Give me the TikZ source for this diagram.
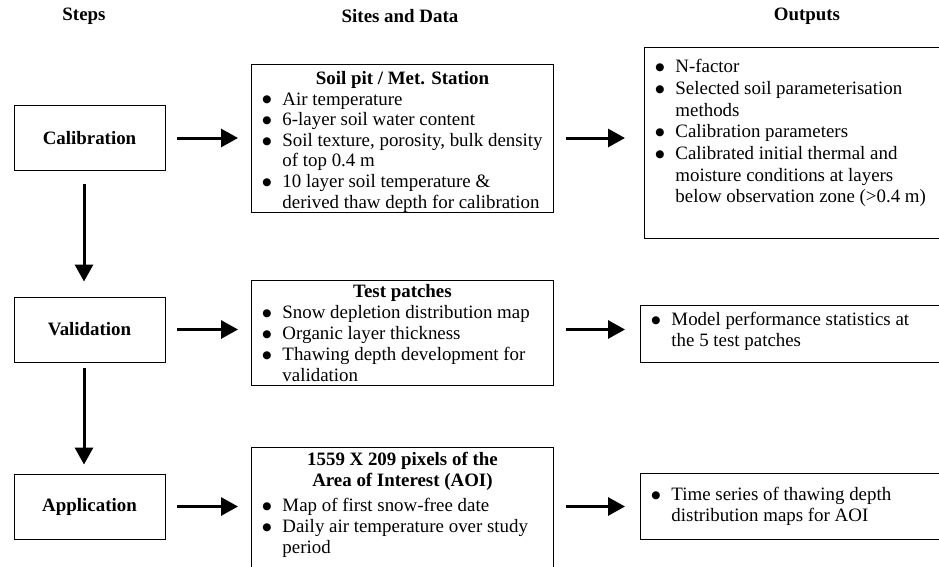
\documentclass[tikz,border=0pt]{standalone}
\usepackage{fontspec}
\setmainfont{Liberation Serif}
\newfontfamily\symfont{DejaVu Sans}
\usetikzlibrary{arrows.meta}

% body text size and line spacing inside the boxes
\newcommand{\bodyfont}[1]{\fontsize{18.9}{#1}\selectfont}
% a rounder, heavier bullet
\newcommand{\blt}{\raisebox{2.2pt}{\symfont\fontsize{10.5}{10.5}\selectfont ●}}
% bulleted line with hanging indent
\newcommand{\itm}[1]{\par\hangindent=21pt\hangafter=1\noindent\makebox[21pt][l]{\hspace{1pt}\blt}#1\par}
% centred bold box title
\newcommand{\ttl}[1]{{\centering\bfseries #1\par}}

\begin{document}
\begin{tikzpicture}
  [x=1pt, y=-1pt,
   head/.style={font=\fontsize{18.9}{21}\selectfont\bfseries},
   stepbox/.style={draw, line width=0.9pt, minimum width=151pt, minimum height=65pt,
     inner sep=0pt, font=\fontsize{18.9}{21}\selectfont\bfseries},
   databox/.style={draw, line width=0.9pt, anchor=north west, inner xsep=10pt, inner ysep=0pt},
   flow/.style={line width=3pt, -{Triangle[length=17pt,width=18pt]}}]
  \useasboundingbox (0,0) rectangle (939,567);
  \clip (0,0) rectangle (939,567);

  % column heads
  \node[head] (h1) at (84,16) {Steps};
  \node[head] (h2) at (400,16) {Sites and Data};
  \node[head] (h3) at (807,16) {Outputs};

  % steps
  \node[stepbox] (cal) at (89.5,138) {Calibration};
  \node[stepbox] (val) at (89.5,329.5) {Validation};
  \node[stepbox] (app) at (89.5,506.5) {Application};

  % sites and data
  \node[databox] (pit) at (251,64) {\parbox[c][148pt][t]{282pt}{\bodyfont{20.6}\raggedright\vspace*{7pt}%
    \ttl{Soil pit / Met. Station}
    \itm{Air temperature}
    \itm{6-layer soil water content}
    \itm{Soil texture, porosity, bulk density\newline of top 0.4 m}
    \itm{10 layer soil temperature \&\newline derived thaw depth for calibration}}};
  \node[databox] (patch) at (251,280) {\parbox[c][105pt][t]{282pt}{\bodyfont{21}\raggedright\vspace*{4pt}%
    \ttl{Test patches}
    \itm{Snow depletion distribution map}
    \itm{Organic layer thickness}
    \itm{Thawing depth development for\newline validation}}};
  \node[databox] (aoi) at (251,447) {\parbox[c][130pt][t]{282pt}{\bodyfont{21}\raggedright\vspace*{5pt}%
    \ttl{1559 X 209 pixels of the\\ Area of Interest (AOI)}\vspace{4pt}
    \itm{Map of first snow-free date}
    \itm{Daily air temperature over study\newline period}}};

  % outputs
  \node[databox] (out1) at (644,47) {\parbox[c][191pt][t]{290pt}{\bodyfont{21.7}\raggedright\vspace*{12pt}%
    \itm{N-factor}
    \itm{Selected soil parameterisation\newline methods}
    \itm{Calibration parameters}
    \itm{Calibrated initial thermal and\newline moisture conditions at layers\newline below observation zone (>0.4 m)}}};
  \node[databox] (out2) at (640,305) {\parbox[c][57pt][t]{290pt}{\bodyfont{21}\raggedright\vspace*{7pt}%
    \itm{Model performance statistics at\newline the 5 test patches}}};
  \node[databox] (out3) at (640,473) {\parbox[c][66pt][t]{290pt}{\bodyfont{21}\raggedright\vspace*{14pt}%
    \itm{Time series of thawing depth\newline distribution maps for AOI}}};

  % steps down the left
  \path[] ([xshift=-5.5pt]cal.south) [flow, shorten <=13pt, shorten >=15pt] edge ([xshift=-5.5pt]val.north);
  \path[] ([xshift=-5.5pt]val.south) [flow, shorten <=6pt, shorten >=9pt] edge ([xshift=-5.5pt]app.north);

  % step -> data
  \path[] (cal.east) [flow, shorten <=12pt, shorten >=13pt] edge (cal.east -| pit.west);
  \path[] (val.east) [flow, shorten <=12pt, shorten >=13pt] edge (val.east -| patch.west);
  \path[] (app.east) [flow, shorten <=12pt, shorten >=13pt] edge (app.east -| aoi.west);

  % data -> outputs
  \path[] (pit.east |- cal.east) [flow, shorten <=12pt, shorten >=19pt] edge (cal.east -| out1.west);
  \path[] (patch.east |- val.east) [flow, shorten <=12pt, shorten >=15pt] edge (val.east -| out2.west);
  \path[] (aoi.east |- app.east) [flow, shorten <=12pt, shorten >=15pt] edge (app.east -| out3.west);
\end{tikzpicture}
\end{document}
